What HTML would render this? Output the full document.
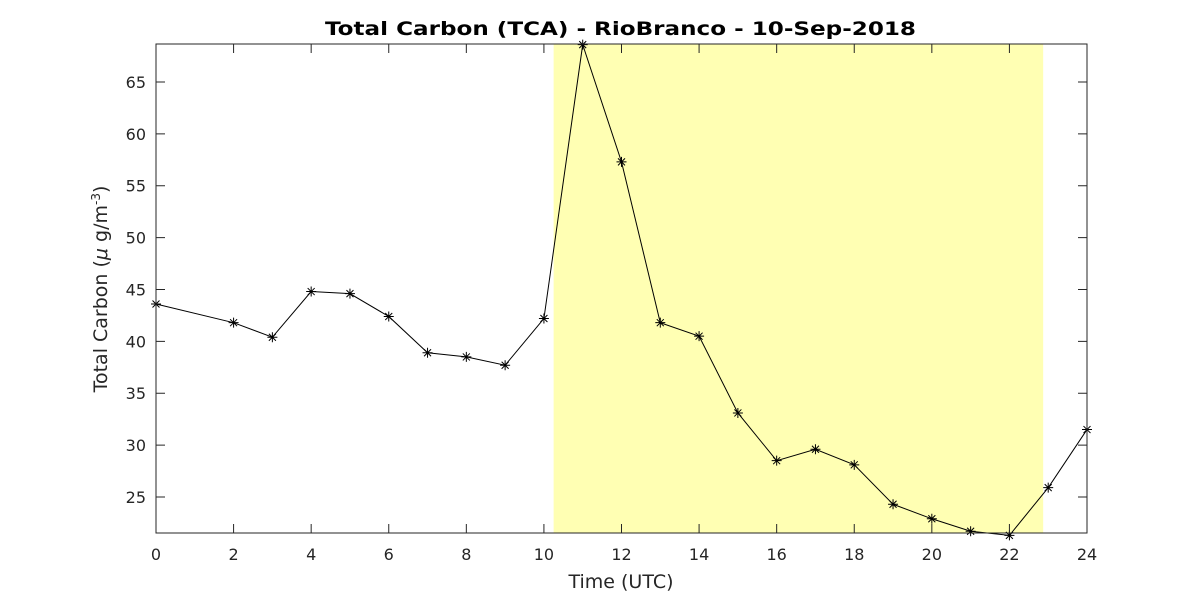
<!DOCTYPE html>
<html><head><meta charset="utf-8"><style>
body{margin:0;background:#fff;width:1200px;height:600px;overflow:hidden}
text{font-family:"DejaVu Sans","Liberation Sans",sans-serif;fill:#262626}
</style></head><body>
<svg id="chart" width="1200" height="600" xmlns="http://www.w3.org/2000/svg">
<rect width="1200" height="600" fill="#fff"/>
<g id="plot"></g>
</svg>
<script>
const hours=[0,2,3,4,5,6,7,8,9,10,11,12,13,14,15,16,17,18,19,20,21,22,23,24];
const carbon=[43.6,41.8,40.4,44.8,44.6,42.4,38.9,38.5,37.7,42.2,68.6,57.3,41.8,40.5,33.1,28.5,29.6,28.1,24.3,22.9,21.7,21.3,25.9,31.5];
const xTicks=[0,2,4,6,8,10,12,14,16,18,20,22,24];
const yTicks=[25,30,35,40,45,50,55,60,65];
const shadeRange=[10.25,22.87];
const X0=156,X1=1087,Y0=533,Y1=44,XMIN=0,XMAX=24,YMIN=21.53,YMAX=68.66;
const sx=v=>X0+(v-XMIN)/(XMAX-XMIN)*(X1-X0);
const sy=v=>Y0-(v-YMIN)/(YMAX-YMIN)*(Y0-Y1);
const NS="http://www.w3.org/2000/svg";
const g=document.getElementById('plot');
function mk(t,a,p){const e=document.createElementNS(NS,t);for(const k in a)e.setAttribute(k,a[k]);(p||g).appendChild(e);return e;}
let e=mk('rect',{x:sx(shadeRange[0]),y:Y1,width:sx(shadeRange[1])-sx(shadeRange[0]),height:Y0-Y1,fill:'#ffffb3'});


e=mk('polyline',{points:hours.map((h,i)=>sx(h)+','+sy(carbon[i])).join(' '),fill:'none',stroke:'#000','stroke-width':1});


hours.forEach((h,i)=>{const cx=sx(h),cy=sy(carbon[i]),r=5;
 const m=mk('path',{d:`M${cx-r},${cy}H${cx+r}M${cx},${cy-r}V${cy+r}M${cx-3.5},${cy-3.5}L${cx+3.5},${cy+3.5}M${cx-3.5},${cy+3.5}L${cx+3.5},${cy-3.5}`,stroke:'#000','stroke-width':1,fill:'none'});
 
 
});
e=mk('rect',{x:X0,y:Y1,width:X1-X0,height:Y0-Y1,fill:'none',stroke:'#262626','stroke-width':1});


xTicks.forEach(t=>{const x=sx(t);
 mk('path',{d:`M${x},${Y0}V${Y0-9}M${x},${Y1}V${Y1+9}`,stroke:'#262626'});
 const l=mk('text',{x:x,y:560,'text-anchor':'middle','font-size':16});l.textContent=t;
 
 
});
yTicks.forEach(t=>{const y=sy(t);
 mk('path',{d:`M${X0},${y}H${X0+9}M${X1},${y}H${X1-9}`,stroke:'#262626'});
 const l=mk('text',{x:146,y:y+6,'text-anchor':'end','font-size':16});l.textContent=t;
 
 
});
</script>
<svg width="1200" height="600" style="position:absolute;left:0;top:0" xmlns="http://www.w3.org/2000/svg">
<text x="325" y="35" font-size="19" font-weight="bold" textLength="591" lengthAdjust="spacingAndGlyphs" style="fill:#000">Total Carbon (TCA) - RioBranco - 10-Sep-2018</text>
<text x="621" y="588" text-anchor="middle" font-size="19">Time (UTC)</text>
<text transform="translate(107,289) rotate(-90)" text-anchor="middle" font-size="19">Total Carbon (<tspan font-style="italic">μ</tspan> g/m<tspan baseline-shift="super" font-size="12">-3</tspan>)</text>
</svg>
</body></html>
